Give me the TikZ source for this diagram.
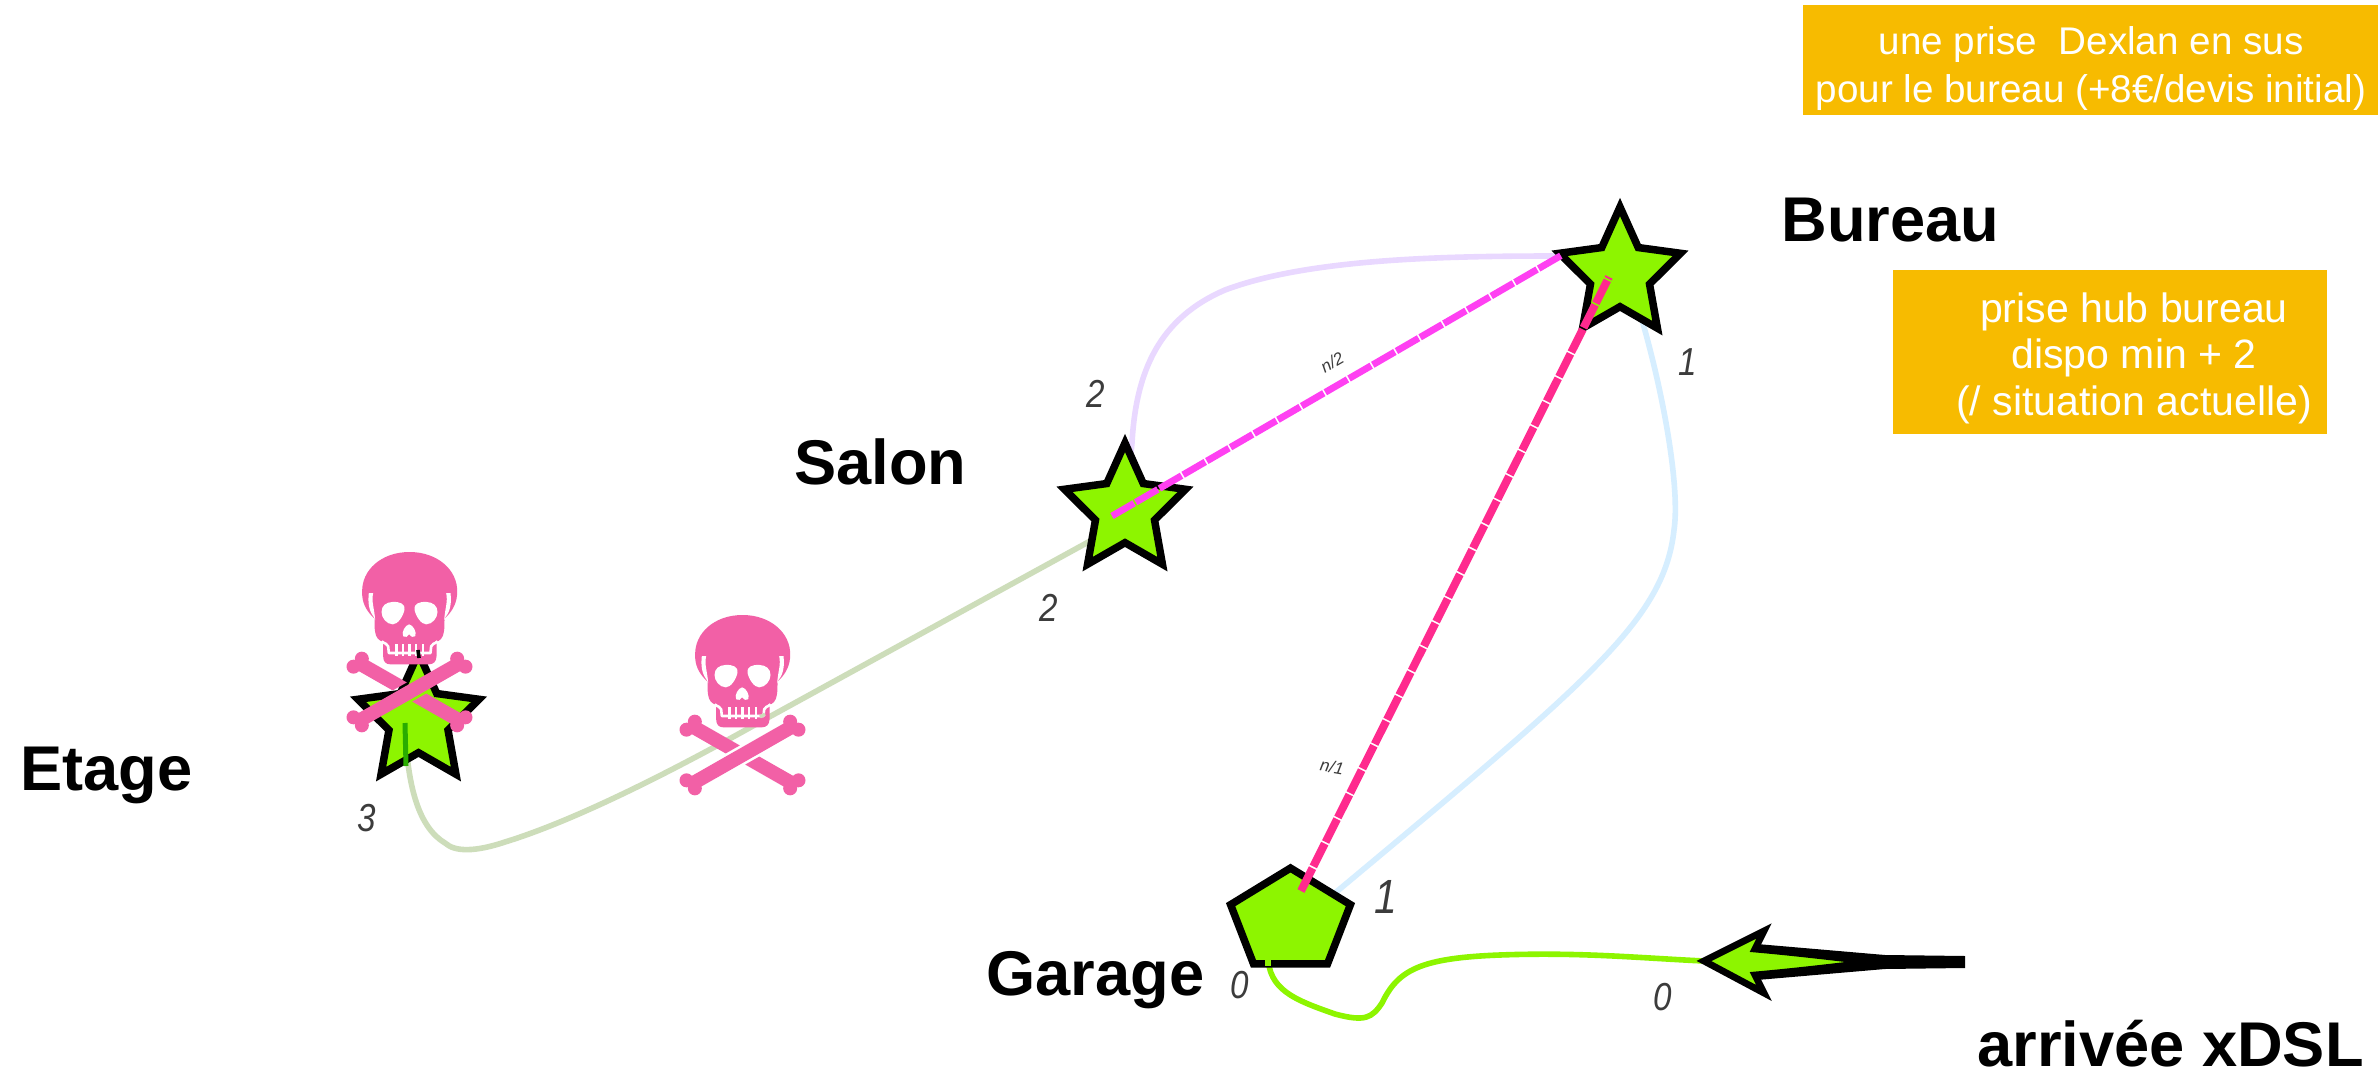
\documentclass[tikz,border=0pt]{standalone}
\usepackage{fontspec}
\setmainfont{Liberation Sans}
\usetikzlibrary{shapes.geometric,calc}
\definecolor{leaf}{HTML}{8DF500}
\definecolor{skullpink}{HTML}{F260A6}
\definecolor{boxorange}{HTML}{F7BB00}
\definecolor{sage}{HTML}{CDDDBA}
\definecolor{lavender}{HTML}{E9D8FF}
\definecolor{skyline}{HTML}{D6EEFF}
\definecolor{magentaline}{HTML}{FF40F2}
\definecolor{pinkline}{HTML}{FF2A8E}
\definecolor{numgray}{HTML}{3C3C3C}
\tikzset{
  roomstar/.style={star,star points=5,star point ratio=2.05,minimum size=67pt,inner sep=0pt,outer sep=0pt,draw=black,line width=3.75pt,fill=leaf,xscale=.95,transform shape},
  roompenta/.style={regular polygon,regular polygon sides=5,minimum size=63pt,inner sep=0pt,outer sep=0pt,draw=black,line width=3.75pt,fill=leaf,yscale=.84,transform shape},
  roomlabel/.style={font=\fontsize{31.6}{36}\selectfont\bfseries,anchor=base west,inner sep=0pt},
  portnum/.style={font=\fontsize{19.5}{22}\selectfont\itshape,text=numgray,inner sep=0pt,xscale=.85,transform shape},
  tinylabel/.style={font=\fontsize{8.5}{10}\selectfont\itshape,text=numgray,inner sep=0pt},
  softcable/.style={line width=2.8pt},
  patchcable/.style={line width=3.4pt,dash pattern=on 12.8pt off 0.9pt},
  orangebox/.style={fill=boxorange,inner sep=0pt,outer sep=0pt},
  boxtext/.style={text=white,align=center,inner sep=0pt},
  skullmark/.pic={
    \begin{scope}[x=0.16667pt,y=-0.16667pt,shift={(-187,-15)}]
      % bones
      \begin{scope}[shift={(187,435)}]
        \fill[skullpink] (8.1,28.7) -- (145.6,107.2) -- (166.4,70.8) -- (50.5,4.7) -- cycle;
        \fill[skullpink] (143,100) circle (21) (168,76) circle (21);
        \fill[skullpink] (-8.1,-28.7) -- (-145.6,-107.2) -- (-166.4,-70.8) -- (-50.5,-4.7) -- cycle;
        \fill[skullpink] (-143,-100) circle (21) (-168,-76) circle (21);
        \fill[skullpink] (166.4,-70.8) -- (145.6,-107.2) -- (-166.4,70.8) -- (-145.6,107.2) -- cycle;
        \fill[skullpink] (143,-100) circle (21) (168,-76) circle (21) (-143,100) circle (21) (-168,76) circle (21);
      \end{scope}
      % skull silhouette
      \fill[skullpink] (187,15) .. controls (272,15) and (332,70) .. (330,135)
        .. controls (330,165) and (318,188) .. (300,207)
        -- (292,215) .. controls (292,232) and (292,245) .. (290,255)
        .. controls (288,272) and (278,282) .. (268,284)
        -- (268,328) .. controls (268,344) and (258,352) .. (245,352)
        -- (130,352) .. controls (116,352) and (108,344) .. (108,328)
        -- (108,284) .. controls (96,282) and (86,272) .. (84,255)
        .. controls (82,245) and (82,232) .. (82,215)
        -- (74,207) .. controls (56,188) and (44,165) .. (45,135)
        .. controls (43,70) and (102,15) .. (187,15) -- cycle;
      % cheek slits
      \fill[white] (65,138) -- (78,138) .. controls (72,165) and (82,185) .. (84,220) -- (80,210) .. controls (64,190) and (62,165) .. (65,138) -- cycle;
      \fill[white] (310,138) -- (297,138) .. controls (303,165) and (293,185) .. (291,220) -- (295,210) .. controls (311,190) and (313,165) .. (310,138) -- cycle;
      % eyes and nose
      \fill[white] (135,165) .. controls (160,163) and (175,172) .. (172,188)
        .. controls (168,208) and (152,232) .. (137,232)
        .. controls (118,232) and (103,212) .. (103,195)
        .. controls (103,175) and (118,166) .. (135,165) -- cycle;
      \fill[white] (239,165) .. controls (214,163) and (199,172) .. (202,188)
        .. controls (206,208) and (222,232) .. (237,232)
        .. controls (256,232) and (271,212) .. (271,195)
        .. controls (271,175) and (256,166) .. (239,165) -- cycle;
      \fill[white] (186,232) .. controls (174,234) and (162,256) .. (168,268)
        .. controls (174,274) and (182,268) .. (186,262)
        .. controls (190,268) and (198,274) .. (204,268)
        .. controls (210,256) and (198,234) .. (186,232) -- cycle;
      % teeth
      \draw[white,line width=1.3pt,line join=round] (104,283) .. controls (112,291) and (122,290) .. (123,298) -- (125,318) -- (250,318) -- (252,298) .. controls (253,290) and (263,291) .. (271,283);
      \foreach \t in {148,167,187,207,227} \draw[white,line width=1.1pt] (\t,291) -- (\t,327);
    \end{scope}
  }
}
\begin{document}
\begin{tikzpicture}[x=0.5pt,y=-0.5pt]
  \useasboundingbox (0,0) rectangle (2378,1086);
  \fill[white] (0,0) rectangle (2378,1086);

  % anchors for room marks
  \coordinate (etagePos) at (418.5,720);
  \coordinate (salonPos) at (1125,510);
  \coordinate (bureauPos) at (1620,274);
  \coordinate (garagePos) at (1290.5,921);
  \coordinate (etageCable) at (405,723);
  \coordinate (garageCable) at (1268,955);
  \coordinate (xdslTip) at (1704,961);
  \coordinate (xdslTail) at (1965,962);
  \coordinate (salonMag) at (1112,516);
  \coordinate (bureauMag) at (1562,255);
  \coordinate (garagePink) at (1301,891);
  \coordinate (bureauPink) at (1609,277);

  % soft cables under the marks
  \draw[softcable,lavender] (salonPos) -- (1132,443) .. controls (1136,370) and (1160,318) .. (1225,290)
     .. controls (1310,258) and (1450,256) .. (1560,256);
  \draw[softcable,skyline] (bureauPos) -- (1642,320) .. controls (1665,400) and (1680,490) .. (1674,530)
     .. controls (1664,620) and (1590,680) .. (1335,893) -- (garagePos);
  \draw[softcable,sage] (salonPos) -- (1092,540) -- (760,722)
     .. controls (660,778) and (570,822) .. (505,842)
     .. controls (475,852) and (455,852) .. (445,843)
     .. controls (420,828) and (407,790) .. (etageCable);
  \draw[line width=2.8pt,leaf] (garageCable) .. controls (1268,990) and (1295,1000) .. (1335,1014)
     .. controls (1365,1022) and (1372,1018) .. (1382,1003)
     .. controls (1398,970) and (1420,958) .. (1500,955)
     .. controls (1580,952) and (1640,958) .. (xdslTip);

  % room marks
  \node[roomstar] (etage) at (etagePos) {};
  \node[roomstar] (salon) at (salonPos) {};
  \node[roomstar] (bureau) at (bureauPos) {};
  \node[roompenta] (garage) at (garagePos) {};

  % overlays on the marks
  \draw[line width=2.5pt,green!55!black!70!leaf] (etageCable) -- (406,766);
  \draw[line width=2.8pt,leaf] (garageCable) -- (1268,966);
  \draw[patchcable,magentaline] (salonMag) -- (bureauMag);
  \draw[patchcable,pinkline,line width=4pt] (garagePink) -- (bureauPink);

  % arrow
  \fill[black] (1757,944) -- (1885,955) -- (xdslTail |- 0,956) -- (xdslTail |- 0,968) -- (1885,969) -- (1757,980) -- cycle;
  \draw[line width=3.4pt,black,fill=leaf,miter limit=12] (xdslTip) -- (1764,931) -- (1755,949) .. controls (1800,953) and (1840,958) .. (1875,962)
      .. controls (1840,966) and (1800,971) .. (1755,975) -- (1764,993) -- cycle;

  % skulls
  \pic at (409.5,552) {skullmark};
  \pic at (742.5,615) {skullmark};
  \draw[line width=1.8pt,black] (418,650) -- (419,658);
  \draw[line width=1.6pt,sage] (765,714) -- (760,717);

  % room labels
  \node[roomlabel] (lblBureau) at (1781,242) {Bureau};
  \node[roomlabel] (lblSalon) at (794,484) {Salon};
  \node[roomlabel] (lblEtage) at (20,790) {Etage};
  \node[roomlabel] (lblGarage) at (986,995) {Garage};
  \node[roomlabel] (lblXdsl) at (1977,1066) {arrivée xDSL};

  % port numbers
  \node[portnum] (p1) at (1096,394) {2};
  \node[portnum] (p2) at (1049,608) {2};
  \node[portnum] (p3) at (1688,362) {1};
  \node[portnum] (p4) at (367,818) {3};
  \node[portnum,font=\fontsize{24}{26}\selectfont\itshape] (p5) at (1386,897) {1};
  \node[portnum] (p6) at (1240,985) {0};
  \node[portnum] (p7) at (1663,997) {0};
  \node[tinylabel,rotate=30] (t1) at (1332,362) {n/2};
  \node[tinylabel,rotate=-10] (t2) at (1332,767) {n/1};

  % orange notes
  \node[orangebox,minimum width=287.5pt,minimum height=55pt] (note1) at (2090.5,60) {};
  \node[boxtext,font=\fontsize{19.3}{24}\selectfont] (note1t) at (2091,69) {une prise\ \ Dexlan en sus\\pour le bureau (+8€/devis initial)};
  \node[orangebox,minimum width=217pt,minimum height=82pt] (note2) at (2110,352) {};
  \node[boxtext,font=\fontsize{20.5}{23.3}\selectfont] (note2t) at (2134,358) {prise hub bureau\\dispo min + 2\\(/ situation actuelle)};
\end{tikzpicture}
\end{document}
